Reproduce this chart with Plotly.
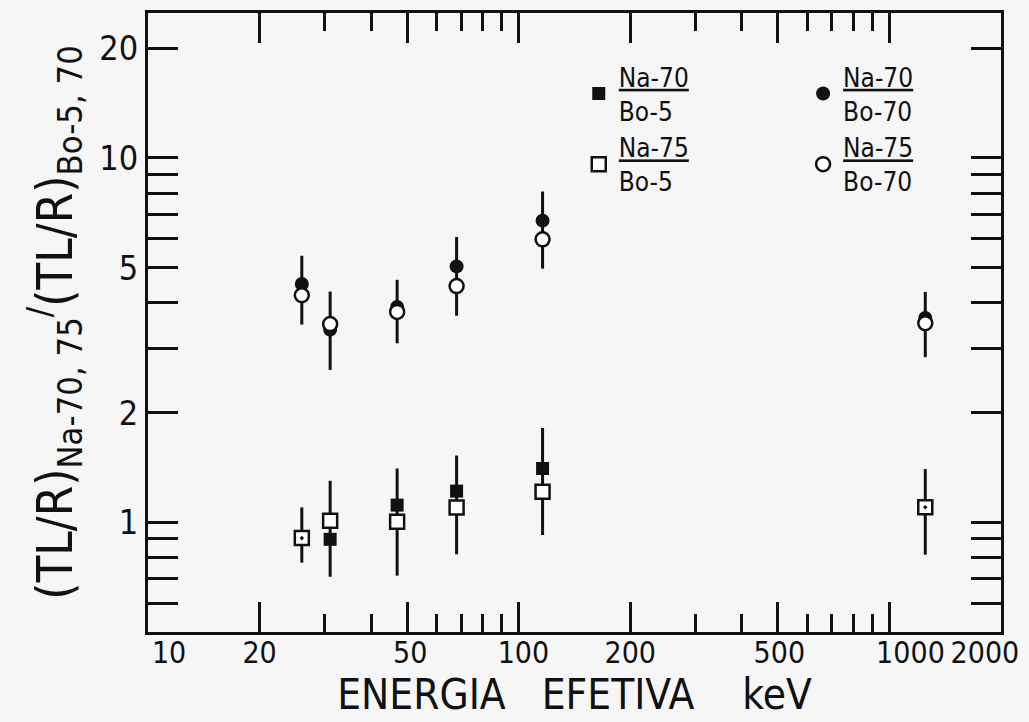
import plotly.graph_objects as go

# ---------------- data ----------------
energy_kev = [26, 31, 47, 68, 116, 1250]

na70_bo70 = [4.51, 3.38, 3.90, 5.04, 6.73, 3.64]      # filled circles
na75_bo70 = [4.20, 3.50, 3.78, 4.45, 5.98, 3.52]      # open circles
circ_bar_top = [5.39, 4.30, 4.63, 6.07, 8.09, 4.29]
circ_bar_bot = [3.49, 2.62, 3.10, 3.69, 4.97, 2.84]

na70_bo5 = [0.905, 0.898, 1.115, 1.218, 1.405, 1.10]  # filled squares
na75_bo5 = [0.905, 1.01, 1.004, 1.098, 1.214, 1.10]   # open squares
sq_bar_top = [1.099, 1.30, 1.405, 1.525, 1.816, 1.40]
sq_bar_bot = [0.775, 0.709, 0.714, 0.817, 0.923, 0.815]

x_major = [10, 20, 50, 100, 200, 500, 1000, 2000]
x_labels = ["10", "20", "50", "100", "200", "500", "1000", "2000"]
x_label_at = [11.4, 20, 51, 103, 200, 505, 1140, 1810]   # where the hand-lettered labels sit
x_minor = [30, 40, 60, 70, 80, 90, 300, 400, 600, 700, 800, 900]
y_major = [1, 2, 5, 10, 20]
y_labels = ["1", "2", "5", "10", "20"]
y_minor = [0.6, 0.7, 0.8, 0.9, 3, 4, 6, 7, 8, 9]

FONT = "Liberation Sans Narrow, DejaVu Sans Condensed, Liberation Sans, sans-serif"
INK = "#111111"
BG = "#f6f6f6"
X_RANGE = [1, 3.3012]
Y_RANGE = [-0.30103, 1.39794]


def err_plus(v, top):
    return [t - a for a, t in zip(v, top)]


def err_minus(v, bot):
    return [a - b for a, b in zip(v, bot)]


fig = go.Figure()

# filled circles with error bars
fig.add_trace(go.Scatter(
    x=energy_kev, y=na70_bo70, mode="markers",
    name="<u>Na-70</u><br>Bo-70", legend="legend2", legendrank=1,
    marker=dict(symbol="circle", size=14, color=INK, line=dict(width=0)),
    error_y=dict(type="data", symmetric=False,
                 array=err_plus(na70_bo70, circ_bar_top),
                 arrayminus=err_minus(na70_bo70, circ_bar_bot),
                 color=INK, thickness=3, width=0),
))
# filled squares with error bars
fig.add_trace(go.Scatter(
    x=energy_kev, y=na70_bo5, mode="markers",
    name="<u>Na-70</u><br>Bo-5", legend="legend", legendrank=1,
    marker=dict(symbol="square", size=13, color=INK, line=dict(width=0)),
    error_y=dict(type="data", symmetric=False,
                 array=err_plus(na70_bo5, sq_bar_top),
                 arrayminus=err_minus(na70_bo5, sq_bar_bot),
                 color=INK, thickness=3, width=0),
))
# open circles
fig.add_trace(go.Scatter(
    x=energy_kev, y=na75_bo70, mode="markers",
    name="<u>Na-75</u><br>Bo-70", legend="legend2", legendrank=2,
    marker=dict(symbol="circle", size=14, color="white", line=dict(width=2.5, color=INK)),
))
# open squares (dot where both square series coincide)
sq_symbols = ["square-dot" if abs(a - b) < 1e-9 else "square"
              for a, b in zip(na70_bo5, na75_bo5)]
fig.add_trace(go.Scatter(
    x=energy_kev, y=na75_bo5, mode="markers", showlegend=False,
    marker=dict(symbol=sq_symbols, size=14, color="white", line=dict(width=2.5, color=INK)),
))
# legend key for the open squares (plain open square); placed on the label axis
fig.add_trace(go.Scatter(
    x=[None], y=[None], mode="markers", xaxis="x2",
    name="<u>Na-75</u><br>Bo-5", legend="legend", legendrank=2,
    marker=dict(symbol="square", size=14, color="white", line=dict(width=2.5, color=INK)),
))

axis_common = dict(
    type="log", showgrid=False, zeroline=False, automargin=False,
    showline=True, linecolor=INK, linewidth=3, mirror="allticks",
    ticks="inside", ticklen=30, tickwidth=2.5, tickcolor=INK,
    tickfont=dict(family=FONT, size=34, color=INK),
)

y_title = ("(TL/R)<sub>Na-70,\u00a075</sub>"
           "<sup>/</sup>(TL/R)<sub>Bo-5,\u00a070</sub>")

NB = "\u00a0"
x_title = "ENERGIA" + NB * 3 + "EFETIVA" + NB * 4 + "keV" + NB * 5

fig.update_layout(
    width=1029, height=722,
    margin=dict(l=148, r=28, t=13, b=90),
    paper_bgcolor=BG, plot_bgcolor=BG,
    font=dict(family=FONT, color=INK),
    xaxis=dict(
        **axis_common,
        range=X_RANGE,
        tickmode="array", tickvals=x_major, ticktext=x_labels,
        showticklabels=False,
        minor=dict(ticks="inside", ticklen=18, tickwidth=2.5, tickcolor=INK,
                   tickmode="array", tickvals=x_minor),
    ),
    xaxis2=dict(
        type="log", overlaying="x", anchor="y", side="bottom", automargin=False,
        range=X_RANGE, showgrid=False, zeroline=False, showline=False,
        tickmode="array", tickvals=x_label_at, ticktext=x_labels, ticks="",
        tickangle=0, ticklabeloverflow="allow",
        tickfont=dict(family=FONT, size=30, color=INK),
        title=dict(text=x_title, font=dict(family=FONT, size=42, color=INK), standoff=4),
    ),
    yaxis=dict(
        **axis_common,
        range=Y_RANGE,
        tickmode="array", tickvals=y_major, ticktext=y_labels,
        minor=dict(ticks="inside", ticklen=18, tickwidth=2.5, tickcolor=INK,
                   tickmode="array", tickvals=y_minor),
        title=dict(text=y_title, font=dict(family=FONT, size=49, color=INK), standoff=12),
    ),
    legend=dict(x=0.505, y=0.935, xanchor="left", yanchor="top",
                bgcolor="rgba(0,0,0,0)", font=dict(family=FONT, size=26, color=INK),
                tracegroupgap=0, itemsizing="trace"),
    legend2=dict(x=0.768, y=0.935, xanchor="left", yanchor="top",
                 bgcolor="rgba(0,0,0,0)", font=dict(family=FONT, size=26, color=INK),
                 tracegroupgap=0, itemsizing="trace"),
    showlegend=True,
)

fig.write_html("out.html")
